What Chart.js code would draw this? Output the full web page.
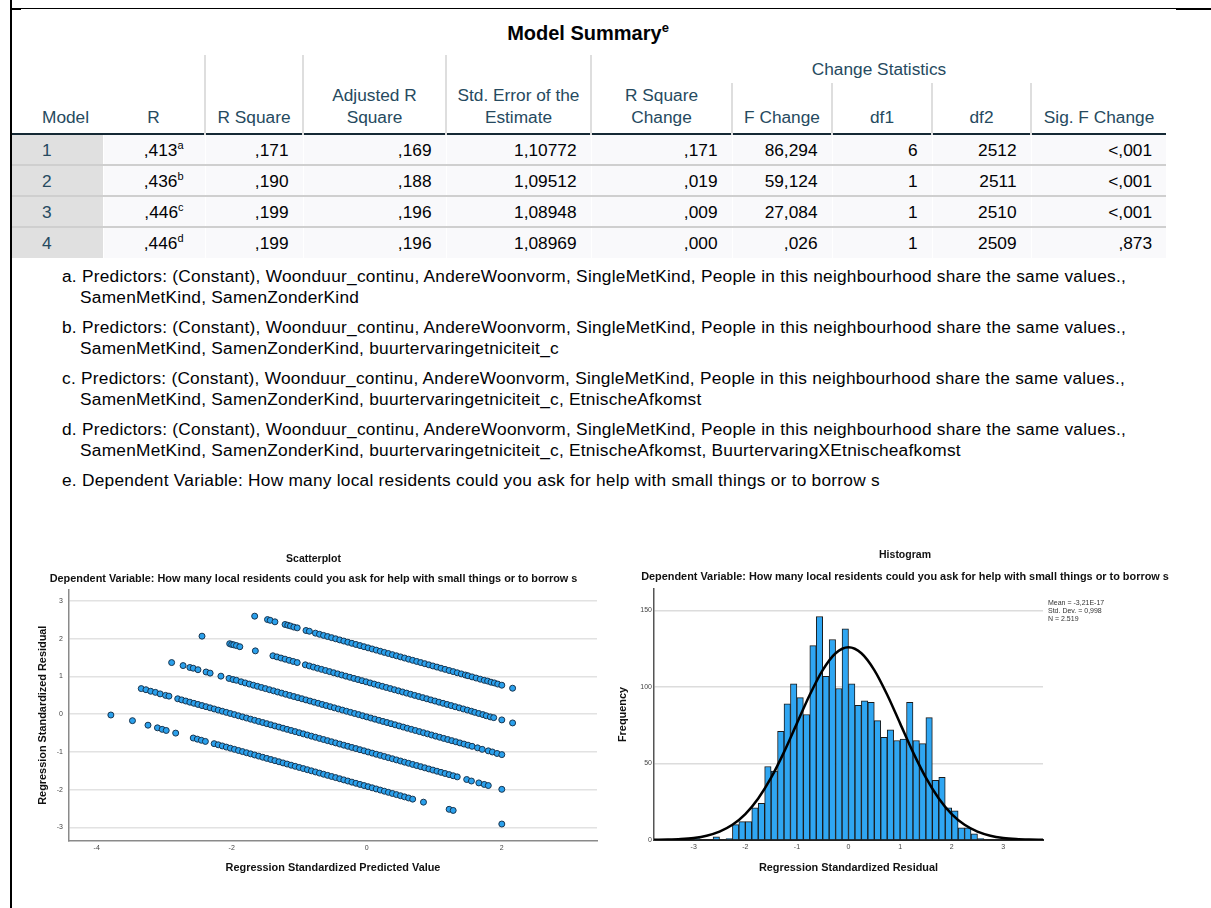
<!DOCTYPE html>
<html lang="en">
<head>
<meta charset="UTF-8">
<title>Model Summary</title>
<script src="https://cdn.jsdelivr.net/npm/chart.js"></script>
<style>
  body { margin: 0; background: #fff; font-family: "Liberation Sans", Arial, sans-serif; }
  .page { position: relative; width: 1211px; height: 908px; overflow: hidden; }
  .rule { position: absolute; background: #000; }
  .title { position: absolute; left: 388px; top: 21px; width: 400px; text-align: center; font-weight: bold; font-size: 20px; line-height: 24px; color: #010205; }
  .title sup { font-size: 13px; line-height: 0; }
  table { position: absolute; left: 12px; top: 55px; border-collapse: collapse; table-layout: fixed; width: 1154px; font-size: 17.3px; }
  th { font-weight: normal; color: #264a60; line-height: 22px; padding: 0 2px 5px; vertical-align: bottom; text-align: center; white-space: nowrap; }
  th.lab { text-align: left; padding-left: 30px; }
  th.vl { border-left: 2px solid #dedede; }
  th.cs { vertical-align: middle; padding: 0; }
  tr.h1 { height: 28px; }
  tr.h2 { height: 51px; }
  tbody tr { height: 31px; }
  td { padding: 0 14px 0 4px; text-align: right; color: #010205; background: #f9f9fb; border-left: 1px solid #fff; white-space: nowrap; line-height: 20px; }
  td.lab { text-align: left; padding-left: 30px; background: #e0e0e0; color: #264a60; border-left: none; }
  td.r { padding-right: 21px; }
  td sup { font-size: 11px; line-height: 0; }
  tbody tr:first-child td { border-top: 2px solid #152935; }
  tbody tr + tr td { border-top: 2px solid #cfcfcf; }
  .notes { position: absolute; left: 62px; top: 266px; font-size: 17.3px; line-height: 21px; letter-spacing: 0.25px; color: #010205; white-space: nowrap; }
  .notes p { margin: 0 0 9px; padding-left: 18px; text-indent: -18px; }
  canvas { position: absolute; }
  #scatterChart { left: 30px; top: 545px; }
  #histChart { left: 615px; top: 545px; }
  .stats { position: absolute; left: 1048px; top: 599px; font-size: 7px; line-height: 8px; color: #333; white-space: nowrap; }
</style>
</head>
<body>
<div class="page">
  <div class="rule" style="left:10px; top:0; width:2px; height:908px;"></div>
  <div class="rule" style="left:10px; top:8px; width:1166px; height:1px;"></div>
  <div class="rule" style="left:10px; top:8px; width:11px; height:2px;"></div>
  <div class="rule" style="left:1176px; top:8px; width:35px; height:2px;"></div>

  <div class="title">Model Summary<sup>e</sup></div>

  <table>
    <colgroup>
      <col style="width:91px"><col style="width:102px"><col style="width:98px"><col style="width:143px"><col style="width:145px">
      <col style="width:141px"><col style="width:100px"><col style="width:100px"><col style="width:99px"><col style="width:135px">
    </colgroup>
    <thead>
      <tr class="h1">
        <th rowspan="2" class="lab">Model</th>
        <th rowspan="2">R</th>
        <th rowspan="2" class="vl">R Square</th>
        <th rowspan="2" class="vl">Adjusted R<br>Square</th>
        <th rowspan="2" class="vl">Std. Error of the<br>Estimate</th>
        <th colspan="5" class="vl cs">Change Statistics</th>
      </tr>
      <tr class="h2">
        <th class="vl">R Square<br>Change</th>
        <th class="vl">F Change</th>
        <th class="vl">df1</th>
        <th class="vl">df2</th>
        <th class="vl">Sig. F Change</th>
      </tr>
    </thead>
    <tbody id="rows"></tbody>
  </table>

  <div class="notes" id="notes"></div>

  <canvas id="scatterChart" width="580" height="335"></canvas>
  <canvas id="histChart" width="580" height="335"></canvas>
  <div class="stats">Mean = -3,21E-17<br>Std. Dev. = 0,998<br>N = 2.519</div>
</div>

<script>
  // table values
  const models = ['1', '2', '3', '4'];
  const rValues = [',413', ',436', ',446', ',446'];
  const rNotes = ['a', 'b', 'c', 'd'];
  const rSquare = [',171', ',190', ',199', ',199'];
  const adjRSquare = [',169', ',188', ',196', ',196'];
  const stdError = ['1,10772', '1,09512', '1,08948', '1,08969'];
  const rSquareChange = [',171', ',019', ',009', ',000'];
  const fChange = ['86,294', '59,124', '27,084', ',026'];
  const df1 = ['6', '1', '1', '1'];
  const df2 = ['2512', '2511', '2510', '2509'];
  const sigFChange = ['<,001', '<,001', '<,001', ',873'];

  const footnotes = [
    ['a. Predictors: (Constant), Woonduur_continu, AndereWoonvorm, SingleMetKind, People in this neighbourhood share the same values.,', 'SamenMetKind, SamenZonderKind'],
    ['b. Predictors: (Constant), Woonduur_continu, AndereWoonvorm, SingleMetKind, People in this neighbourhood share the same values.,', 'SamenMetKind, SamenZonderKind, buurtervaringetniciteit_c'],
    ['c. Predictors: (Constant), Woonduur_continu, AndereWoonvorm, SingleMetKind, People in this neighbourhood share the same values.,', 'SamenMetKind, SamenZonderKind, buurtervaringetniciteit_c, EtnischeAfkomst'],
    ['d. Predictors: (Constant), Woonduur_continu, AndereWoonvorm, SingleMetKind, People in this neighbourhood share the same values.,', 'SamenMetKind, SamenZonderKind, buurtervaringetniciteit_c, EtnischeAfkomst, BuurtervaringXEtnischeafkomst'],
    ['e. Dependent Variable: How many local residents could you ask for help with small things or to borrow s']
  ];

  // scatterplot: [standardized predicted value, standardized residual], one band per outcome level
  const residualBand1 = [
    [-1.66,2.60],[-1.47,2.51],[-1.43,2.49],[-1.36,2.45],[-1.21,2.38],[-1.17,2.36],[-1.13,2.34],[-1.08,2.31],[-1.03,2.29],
    [-0.90,2.22],[-0.85,2.20],[-0.76,2.15],[-0.70,2.12],[-0.64,2.09],[-0.58,2.06],[-0.52,2.03],[-0.46,2.00],[-0.40,1.97],
    [-0.34,1.94],[-0.28,1.91],[-0.22,1.88],[-0.16,1.85],[-0.10,1.82],[-0.04,1.79],[0.02,1.76],[0.08,1.73],[0.14,1.70],
    [0.20,1.67],[0.26,1.64],[0.32,1.61],[0.38,1.58],[0.44,1.55],[0.50,1.52],[0.56,1.49],[0.62,1.46],[0.68,1.43],
    [0.74,1.40],[0.80,1.37],[0.86,1.34],[0.92,1.31],[0.98,1.28],[1.04,1.25],[1.10,1.22],[1.16,1.19],[1.22,1.16],
    [1.28,1.13],[1.34,1.10],[1.40,1.07],[1.46,1.04],[1.50,1.02],[1.56,0.99],[1.62,0.96],[1.68,0.93],[1.74,0.90],
    [1.79,0.88],[1.84,0.85],[1.89,0.83],[1.94,0.80],[2.00,0.77],[2.16,0.69]
  ];
  const residualBand2 = [
    [-2.44,2.07],[-2.03,1.87],[-2.00,1.85],[-1.97,1.84],[-1.93,1.82],[-1.88,1.79],[-1.65,1.68],
    [-1.39,1.55],[-1.33,1.52],[-1.27,1.49],[-1.21,1.46],[-1.15,1.43],[-1.09,1.40],[-1.03,1.37],[-0.91,1.31],[-0.85,1.28],
    [-0.79,1.25],[-0.73,1.22],[-0.67,1.19],[-0.61,1.16],[-0.55,1.13],[-0.49,1.10],[-0.43,1.07],[-0.37,1.04],[-0.31,1.01],
    [-0.25,0.98],[-0.19,0.95],[-0.13,0.92],[-0.07,0.89],[-0.01,0.86],[0.05,0.83],[0.11,0.80],[0.17,0.77],[0.23,0.74],
    [0.29,0.71],[0.35,0.68],[0.41,0.65],[0.47,0.62],[0.53,0.59],[0.59,0.56],[0.65,0.53],[0.71,0.50],[0.77,0.47],
    [0.83,0.44],[0.89,0.41],[0.95,0.38],[1.01,0.35],[1.07,0.32],[1.13,0.29],[1.19,0.26],[1.25,0.23],[1.31,0.20],
    [1.37,0.17],[1.43,0.14],[1.49,0.11],[1.55,0.08],[1.60,0.05],[1.66,0.02],[1.72,-0.01],[1.77,-0.04],[1.83,-0.07],
    [1.88,-0.09],[2.00,-0.15],[2.16,-0.23]
  ];
  const residualBand3 = [
    [-2.89,1.37],[-2.72,1.29],[-2.62,1.24],[-2.57,1.22],[-2.50,1.18],[-2.38,1.12],[-2.32,1.09],[-2.16,1.01],[-2.04,0.95],
    [-1.98,0.92],[-1.93,0.90],[-1.86,0.86],[-1.80,0.83],[-1.74,0.80],[-1.68,0.77],[-1.62,0.74],[-1.56,0.71],[-1.50,0.68],
    [-1.44,0.65],[-1.38,0.62],[-1.32,0.59],[-1.26,0.56],[-1.20,0.53],[-1.14,0.50],[-1.08,0.47],[-1.02,0.44],[-0.96,0.41],
    [-0.90,0.38],[-0.84,0.35],[-0.78,0.32],[-0.72,0.29],[-0.66,0.26],[-0.60,0.23],[-0.54,0.20],[-0.48,0.17],[-0.42,0.14],
    [-0.36,0.11],[-0.30,0.08],[-0.24,0.05],[-0.18,0.02],[-0.12,-0.01],[-0.06,-0.04],[0.00,-0.07],[0.06,-0.10],[0.12,-0.13],
    [0.18,-0.16],[0.24,-0.19],[0.30,-0.22],[0.36,-0.25],[0.42,-0.28],[0.48,-0.31],[0.54,-0.34],[0.60,-0.37],[0.66,-0.40],
    [0.72,-0.43],[0.78,-0.46],[0.84,-0.49],[0.90,-0.52],[0.96,-0.55],[1.02,-0.58],[1.08,-0.61],[1.14,-0.64],[1.20,-0.67],
    [1.26,-0.70],[1.32,-0.73],[1.38,-0.76],[1.44,-0.79],[1.50,-0.82],[1.56,-0.85],[1.64,-0.89],[1.71,-0.93],[1.80,-0.97],
    [1.86,-1.00],[1.93,-1.04],[2.00,-1.07]
  ];
  const residualBand4 = [
    [-3.34,0.68],[-3.27,0.65],[-3.20,0.61],[-3.13,0.58],[-3.06,0.54],[-2.98,0.50],[-2.93,0.48],
    [-2.80,0.41],[-2.74,0.38],[-2.68,0.35],[-2.62,0.32],[-2.56,0.29],[-2.50,0.26],[-2.44,0.23],[-2.38,0.20],[-2.32,0.17],
    [-2.26,0.14],[-2.20,0.11],[-2.14,0.08],[-2.08,0.05],[-2.02,0.02],[-1.96,-0.01],[-1.90,-0.04],[-1.84,-0.07],[-1.78,-0.10],
    [-1.72,-0.13],[-1.66,-0.16],[-1.60,-0.19],[-1.54,-0.22],[-1.48,-0.25],[-1.42,-0.28],[-1.36,-0.31],[-1.30,-0.34],[-1.24,-0.37],
    [-1.18,-0.40],[-1.12,-0.43],[-1.06,-0.46],[-1.00,-0.49],[-0.94,-0.52],[-0.88,-0.55],[-0.82,-0.58],[-0.76,-0.61],[-0.70,-0.64],
    [-0.64,-0.67],[-0.58,-0.70],[-0.52,-0.73],[-0.46,-0.76],[-0.40,-0.79],[-0.34,-0.82],[-0.28,-0.85],[-0.22,-0.88],[-0.16,-0.91],
    [-0.10,-0.94],[-0.04,-0.97],[0.02,-1.00],[0.08,-1.03],[0.14,-1.06],[0.20,-1.09],[0.26,-1.12],[0.32,-1.15],[0.38,-1.18],
    [0.44,-1.21],[0.50,-1.24],[0.56,-1.27],[0.62,-1.30],[0.68,-1.33],[0.74,-1.36],[0.80,-1.39],[0.86,-1.42],[0.92,-1.45],
    [0.98,-1.48],[1.04,-1.51],[1.10,-1.54],[1.16,-1.57],[1.22,-1.60],[1.28,-1.63],[1.34,-1.66],[1.48,-1.73],[1.55,-1.77],
    [1.66,-1.82],[1.74,-1.86],[1.80,-1.89],[2.00,-1.99]
  ];
  const residualBand5 = [
    [-3.79,-0.02],[-3.47,-0.17],[-3.24,-0.29],[-3.10,-0.36],[-3.03,-0.40],[-2.97,-0.43],[-2.83,-0.50],
    [-2.57,-0.63],[-2.51,-0.66],[-2.45,-0.69],[-2.39,-0.72],[-2.26,-0.78],[-2.20,-0.81],[-2.14,-0.84],[-2.08,-0.87],[-2.02,-0.90],
    [-1.96,-0.93],[-1.90,-0.96],[-1.84,-0.99],[-1.78,-1.02],[-1.72,-1.05],[-1.66,-1.08],[-1.60,-1.11],[-1.54,-1.14],[-1.48,-1.17],
    [-1.42,-1.20],[-1.36,-1.23],[-1.30,-1.26],[-1.24,-1.29],[-1.18,-1.32],[-1.12,-1.35],[-1.06,-1.38],[-1.00,-1.41],[-0.94,-1.44],
    [-0.88,-1.47],[-0.82,-1.50],[-0.76,-1.53],[-0.70,-1.56],[-0.64,-1.59],[-0.58,-1.62],[-0.52,-1.65],[-0.46,-1.68],[-0.40,-1.71],
    [-0.34,-1.74],[-0.28,-1.77],[-0.22,-1.80],[-0.16,-1.83],[-0.10,-1.86],[-0.04,-1.89],[0.02,-1.92],[0.08,-1.95],[0.14,-1.98],
    [0.20,-2.01],[0.26,-2.04],[0.32,-2.07],[0.38,-2.10],[0.44,-2.13],[0.50,-2.16],[0.56,-2.19],[0.62,-2.22],[0.68,-2.25],
    [0.84,-2.33],[1.22,-2.52],[1.28,-2.55],[2.00,-2.91]
  ];

  // histogram of standardized residuals (bin width 0.125)
  const binCenters = [
    -2.9375, -2.5625, -2.3125, -2.1875, -2.0625, -1.9375, -1.8125, -1.6875, -1.5625, -1.4375, -1.3125, -1.1875,
    -1.0625, -0.9375, -0.8125, -0.6875, -0.5625, -0.4375, -0.3125, -0.1875, -0.0625, 0.0625, 0.1875, 0.3125,
    0.4375, 0.5625, 0.6875, 0.8125, 0.9375, 1.0625, 1.1875, 1.3125, 1.4375, 1.5625, 1.6875, 1.8125,
    1.9375, 2.0625, 2.1875, 2.3125, 2.4375, 2.5625
  ];
  const binCounts = [
    1, 2, 1, 10, 12, 12, 21, 24, 48, 45, 71, 89,
    102, 93, 82, 127, 146, 107, 131, 99, 138, 102, 88, 91,
    90, 78, 67, 72, 65, 66, 90, 65, 63, 80, 39, 41,
    21, 19, 8, 8, 4, 1
  ];
  // normal curve as drawn over the histogram
  const curveX = [-3.77, -3.5, -3.25, -3, -2.75, -2.5, -2.25, -2, -1.75, -1.5, -1.25, -1, -0.75, -0.5, -0.25, 0,
                  0.25, 0.5, 0.75, 1, 1.25, 1.5, 1.75, 2, 2.25, 2.5, 2.75, 3, 3.25, 3.5, 3.77];
  const curveY = [0.09, 0.27, 0.63, 1.37, 2.83, 5.47, 9.91, 16.9, 27.1, 40.7, 57.4, 76.2, 94.9, 111.0, 122.0, 125.9,
                  122.0, 111.0, 94.9, 76.2, 57.4, 40.7, 27.1, 16.9, 9.91, 5.47, 2.83, 1.37, 0.63, 0.27, 0.09];

  // build the table
  const rows = document.getElementById('rows');
  models.forEach((m, i) => {
    const tr = document.createElement('tr');
    tr.innerHTML =
      `<td class="lab">${m}</td>` +
      `<td class="r">${rValues[i]}<sup>${rNotes[i]}</sup></td>` +
      `<td>${rSquare[i]}</td><td>${adjRSquare[i]}</td><td>${stdError[i]}</td>` +
      `<td>${rSquareChange[i]}</td><td>${fChange[i]}</td><td>${df1[i]}</td><td>${df2[i]}</td>` +
      `<td>${sigFChange[i].replace('<', '&lt;')}</td>`;
    rows.appendChild(tr);
  });

  const notes = document.getElementById('notes');
  footnotes.forEach(lines => {
    const p = document.createElement('p');
    p.innerHTML = lines.join('<br>');
    notes.appendChild(p);
  });

  Chart.defaults.font.family = '"Liberation Sans", Arial, sans-serif';
  Chart.defaults.color = '#444';

  const titleFont = { size: 10.5, weight: 'bold' };
  const subtitleFont = { size: 10.9, weight: 'bold' };
  const axisTitleFont = { size: 10.9, weight: 'bold' };
  const tickFont = { size: 7 };
  const subtitleText = 'Dependent Variable: How many local residents could you ask for help with small things or to borrow s';

  const toPoints = band => band.map(p => ({ x: p[0], y: p[1] }));
  const bands = [residualBand1, residualBand2, residualBand3, residualBand4, residualBand5];

  new Chart(document.getElementById('scatterChart'), {
    type: 'scatter',
    data: {
      datasets: bands.map(b => ({
        data: toPoints(b),
        pointRadius: 3,
        backgroundColor: '#2aa0ec',
        borderColor: '#173550',
        borderWidth: 1
      }))
    },
    options: {
      responsive: false,
      animation: false,
      layout: { padding: { right: 13 } },
      plugins: {
        legend: { display: false },
        tooltip: { enabled: false },
        title: { display: true, text: 'Scatterplot', color: '#111', font: titleFont, padding: { top: 8, bottom: 7 } },
        subtitle: { display: true, text: subtitleText, color: '#111', font: subtitleFont, padding: { top: 0, bottom: 3.7 } }
      },
      scales: {
        x: {
          type: 'linear', min: -4.41, max: 3.41,
          ticks: { stepSize: 2, includeBounds: false, font: tickFont, padding: 3 },
          grid: { display: false, drawTicks: false },
          border: { display: true, color: '#8a8a8a', width: 1.5 },
          title: { display: true, text: 'Regression Standardized Predicted Value', color: '#111', font: axisTitleFont, padding: { top: 0, bottom: 5.5 } },
          afterFit: s => { s.height = 39; }
        },
        y: {
          min: -3.36, max: 3.31,
          ticks: { stepSize: 1, includeBounds: false, font: tickFont, padding: 6 },
          grid: { color: '#e2e2e2', lineWidth: 1.5, drawTicks: false },
          border: { display: true, color: '#8a8a8a', width: 1.5 },
          title: { display: true, text: 'Regression Standardized Residual', color: '#111', font: axisTitleFont, padding: { top: 6.5, bottom: 0 } },
          afterFit: s => { s.width = 39; }
        }
      }
    }
  });

  new Chart(document.getElementById('histChart'), {
    type: 'bar',
    data: {
      datasets: [
        {
          type: 'line',
          data: curveX.map((x, i) => ({ x: x, y: curveY[i] })),
          borderColor: '#000',
          borderWidth: 2.5,
          pointRadius: 0,
          cubicInterpolationMode: 'monotone',
          order: 0
        },
        {
          type: 'bar',
          data: binCenters.map((x, i) => ({ x: x, y: binCounts[i] })),
          backgroundColor: '#2fa6f2',
          borderColor: '#1a1a1a',
          borderWidth: 1,
          barPercentage: 1,
          categoryPercentage: 1,
          order: 1
        }
      ]
    },
    options: {
      responsive: false,
      animation: false,
      plugins: {
        legend: { display: false },
        tooltip: { enabled: false },
        title: { display: true, text: 'Histogram', color: '#111', font: titleFont, padding: { top: 4, bottom: 9 } },
        subtitle: { display: true, text: subtitleText, color: '#111', font: subtitleFont, padding: { top: 0, bottom: 5.3 } }
      },
      scales: {
        x: {
          type: 'linear', min: -3.77, max: 3.77, offset: false,
          ticks: { stepSize: 1, includeBounds: false, font: tickFont, padding: 3 },
          grid: { display: false, drawTicks: false },
          border: { display: true, color: '#222', width: 2 },
          title: { display: true, text: 'Regression Standardized Residual', color: '#111', font: axisTitleFont, padding: { top: 0, bottom: 5.5 } },
          afterFit: s => { s.height = 40; }
        },
        y: {
          min: 0, max: 164,
          ticks: { stepSize: 50, includeBounds: false, font: tickFont, padding: 2 },
          grid: { color: '#dcdcdc', lineWidth: 1.5, drawTicks: false },
          border: { display: true, color: '#555', width: 1.5 },
          title: { display: true, text: 'Frequency', color: '#111', font: axisTitleFont, padding: { top: 1.5, bottom: 0 } },
          afterFit: s => { s.width = 39; }
        },
        spacer: {
          type: 'linear', position: 'right', display: true,
          ticks: { display: false },
          grid: { display: false, drawTicks: false },
          border: { display: false },
          afterFit: s => { s.width = 152; }
        }
      }
    }
  });
</script>
</body>
</html>
